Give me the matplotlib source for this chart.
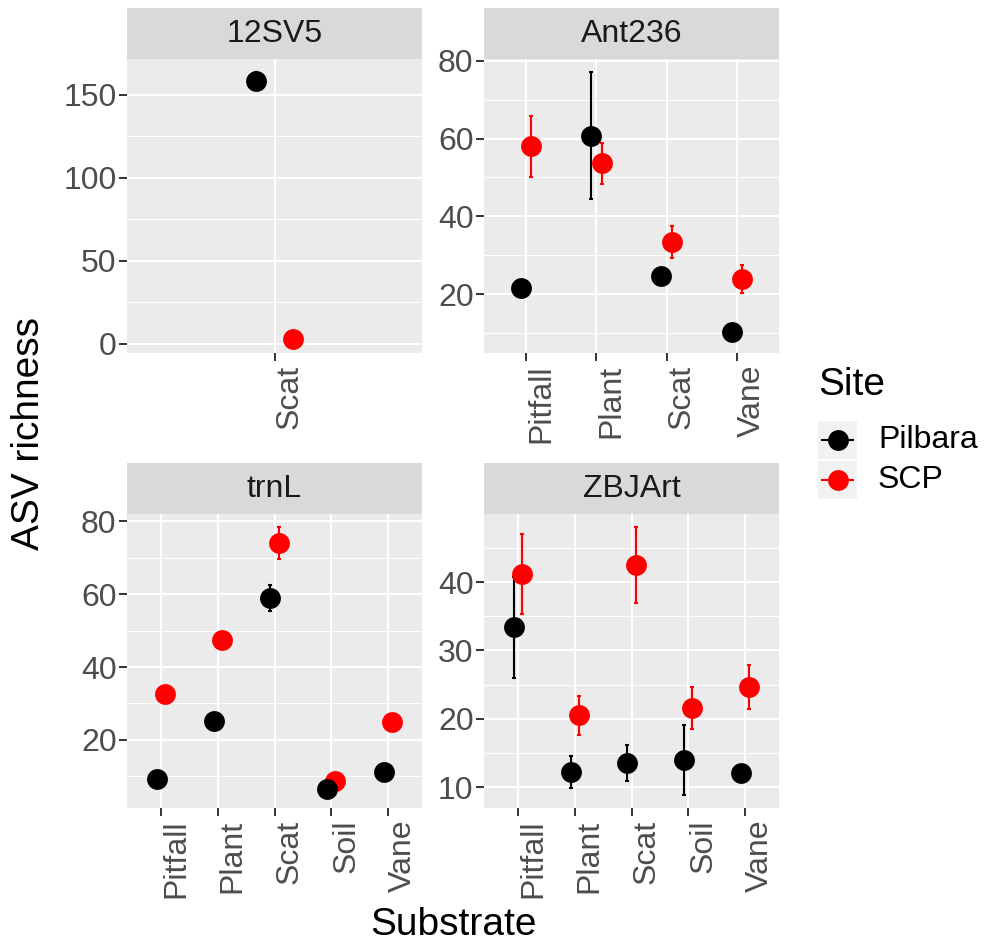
import matplotlib
matplotlib.use("Agg")
import matplotlib.pyplot as plt
from matplotlib.patches import Rectangle
from matplotlib.ticker import FixedLocator
import numpy as np

plt.rcParams['font.family'] = ['Liberation Sans', 'DejaVu Sans']

# data (mean and +/- error per substrate)
markers = ["12SV5", "Ant236", "trnL", "ZBJArt"]
sites = ["Pilbara", "SCP"]
site_colors = ["black", "#FF0000"]

sv5_subs = ["Scat"]
sv5_pil = [158.4]
sv5_pil_se = [5.2]
sv5_scp = [3.0]
sv5_scp_se = [0.4]

ant_subs = ["Pitfall", "Plant", "Scat", "Vane"]
ant_pil = [21.5, 60.7, 24.6, 10.2]
ant_pil_se = [1.0, 16.3, 1.4, 1.9]
ant_scp = [58.0, 53.6, 33.4, 23.9]
ant_scp_se = [7.8, 5.2, 4.0, 3.6]

trn_subs = ["Pitfall", "Plant", "Scat", "Soil", "Vane"]
trn_pil = [9.4, 25.2, 58.9, 6.5, 11.2]
trn_pil_se = [1.0, 1.0, 3.5, 1.5, 1.0]
trn_scp = [32.7, 47.5, 73.9, 8.8, 24.8]
trn_scp_se = [1.0, 0.8, 4.4, 1.0, 1.0]

zbj_subs = ["Pitfall", "Plant", "Scat", "Soil", "Vane"]
zbj_pil = [33.4, 12.2, 13.5, 14.0, 12.1]
zbj_pil_se = [7.4, 2.4, 2.6, 5.1, 1.0]
zbj_scp = [41.2, 20.5, 42.5, 21.6, 24.6]
zbj_scp_se = [5.9, 2.9, 5.5, 3.1, 3.2]

major_ticks = [[0, 50, 100, 150], [20, 40, 60, 80], [20, 40, 60, 80], [10, 20, 30, 40]]
minor_step = [25, 10, 10, 5]

panels = [
    (sv5_subs, [sv5_pil, sv5_scp], [sv5_pil_se, sv5_scp_se]),
    (ant_subs, [ant_pil, ant_scp], [ant_pil_se, ant_scp_se]),
    (trn_subs, [trn_pil, trn_scp], [trn_pil_se, trn_scp_se]),
    (zbj_subs, [zbj_pil, zbj_scp], [zbj_pil_se, zbj_scp_se]),
]

W, H = 989, 947
fig = plt.figure(figsize=(W / 100, H / 100), dpi=100)
fig.patch.set_facecolor("white")


def px_rect(x0, y0, x1, y1):
    return [x0 / W, 1 - y1 / H, (x1 - x0) / W, (y1 - y0) / H]


# panel boxes in pixels: (left, right, strip top, panel top, panel bottom)
boxes = [(127, 422, 8, 59, 353), (484, 779, 8, 59, 353),
         (127, 422, 463, 514, 808), (484, 779, 463, 514, 808)]
dodge = 0.075

for i, (subs, means, ses) in enumerate(panels):
    x0, x1, st, pt, pb = boxes[i]
    ax = fig.add_axes(px_rect(x0, pt, x1, pb))
    ax.set_facecolor("#EBEBEB")
    for s in ax.spines.values():
        s.set_visible(False)

    xs = np.arange(len(subs))
    lo_all, hi_all = [], []
    # error bars first, then points (SCP under Pilbara)
    for k in [1, 0]:
        m = np.array(means[k])
        e = np.array(ses[k])
        xk = xs + (-dodge if k == 0 else dodge)
        ax.errorbar(xk, m, yerr=e, fmt="none", ecolor=site_colors[k],
                    elinewidth=1.5, capsize=1.2, capthick=1.5, zorder=3)
        lo_all.append((m - e).min())
        hi_all.append((m + e).max())
    for k in [1, 0]:
        xk = xs + (-dodge if k == 0 else dodge)
        ax.plot(xk, means[k], "o", color=site_colors[k], ms=15, mec="none", zorder=4 + (1 - k))

    lo, hi = min(lo_all), max(hi_all)
    pad = (hi - lo) * 0.05
    ax.set_ylim(lo - pad, hi + pad)
    ax.set_xlim(-0.6, len(subs) - 0.4)

    ax.set_xticks(xs)
    ax.set_xticklabels(subs, rotation=90, ha="left", va="top")
    ax.set_yticks(major_ticks[i])
    y0, y1 = ax.get_ylim()
    mstep = minor_step[i]
    minors = np.arange(np.floor(y0 / mstep) * mstep, y1, mstep)
    minors = [v for v in minors if v not in major_ticks[i] and y0 <= v <= y1]
    ax.yaxis.set_minor_locator(FixedLocator(minors))
    ax.xaxis.set_minor_locator(FixedLocator([]))
    ax.grid(which="major", color="white", lw=1.5, zorder=0)
    ax.grid(which="minor", axis="y", color="white", lw=0.75, zorder=0)
    ax.set_axisbelow(True)
    ax.tick_params(which="major", length=5.5, width=1.4, color="#333333",
                   labelsize=23, labelcolor="#4D4D4D", pad=2)
    ax.tick_params(axis="x", pad=3)
    ax.tick_params(which="minor", length=0)
    for lab in ax.get_xticklabels():
        lab.set_rotation_mode("anchor")
        lab.set_ha("right")
        lab.set_va("top")

    # strip
    sax = fig.add_axes(px_rect(x0, st, x1, pt))
    sax.set_facecolor("#D9D9D9")
    sax.set_xticks([])
    sax.set_yticks([])
    for s in sax.spines.values():
        s.set_visible(False)
    sax.text(0.5, 0.5, markers[i], ha="center", va="center", fontsize=23,
             color="#1A1A1A", transform=sax.transAxes)

# axis titles
fig.text(29 / W, 1 - 433 / H, "ASV richness", rotation=90, ha="center", va="center", fontsize=28)
fig.text(453 / W, 1 - 925 / H, "Substrate", ha="center", va="center", fontsize=28)

# legend
lax = fig.add_axes([0, 0, 1, 1], zorder=-1)
lax.set_xlim(0, W)
lax.set_ylim(H, 0)
lax.axis("off")
lax.text(818, 385, "Site", ha="left", va="center", fontsize=28)
key_tops = [421, 461]
for k, site in enumerate(sites):
    ty = key_tops[k]
    lax.add_patch(Rectangle((818, ty), 39, 38, facecolor="#F2F2F2", edgecolor="none"))
    cy = ty + 19
    lax.plot([822, 853], [cy, cy], color=site_colors[k], lw=1.5)
    lax.plot([837.5], [cy], "o", color=site_colors[k], ms=15, mec="none")
    lax.text(878, cy, site, ha="left", va="center", fontsize=23)

fig.savefig("out.png", dpi=100)
